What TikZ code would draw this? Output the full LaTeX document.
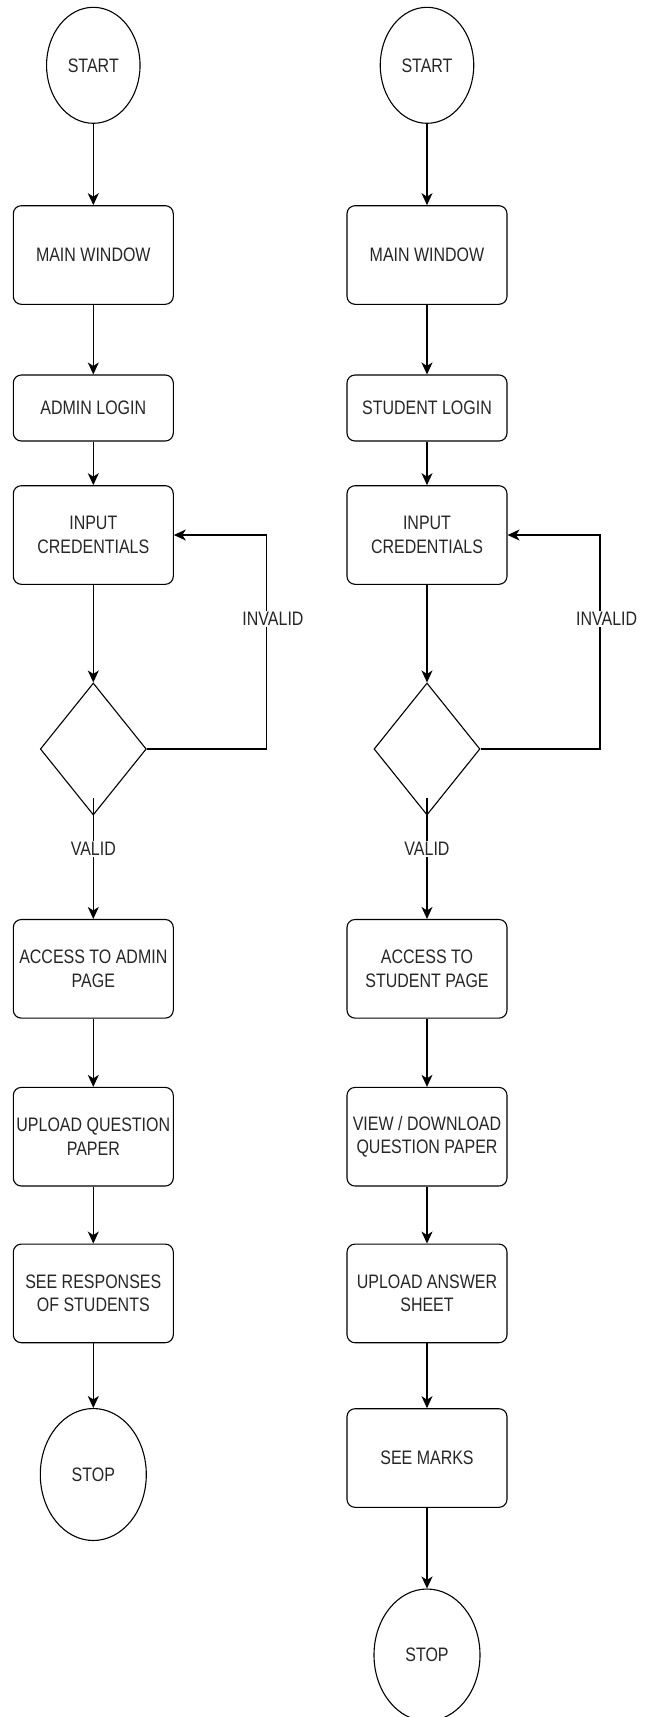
\documentclass[tikz,border=0pt]{standalone}
\usepackage{fontspec}
\setmainfont{Liberation Sans}[FakeStretch=0.82]
\usetikzlibrary{shapes.geometric,arrows.meta}
\begin{document}
\begin{tikzpicture}[x=1pt,y=-1pt,
  every node/.style={font=\fontsize{19.5}{23.3}\selectfont, text=black!85},
  term/.style={ellipse, draw, line width=1.1pt, inner sep=0pt},
  startterm/.style={term, minimum width=93.5pt, minimum height=116pt},
  stopterm/.style={term, minimum width=106pt, minimum height=132pt},
  proc/.style={rectangle, draw, line width=1.1pt, rounded corners=8pt, minimum width=160pt, align=center, inner sep=0pt},
  tallproc/.style={proc, minimum height=98.6pt},
  shortproc/.style={proc, minimum height=66pt},
  dec/.style={diamond, draw, line width=1.1pt, minimum width=106pt, minimum height=132pt, inner sep=0pt},
  arr/.style={draw, line width=1.1pt, -{Stealth[length=12pt,width=11pt,inset=3.5pt]}},
  lbl/.style={fill=white, inner sep=1pt}
]
\useasboundingbox (0,0) rectangle (651,1717);

% ---------- Left column (admin) ----------
\node[startterm] (s1) at (93.3,65.3) {START};
\node[tallproc] (m1) at (93.3,255) {MAIN WINDOW};
\node[shortproc] (l1) at (93.3,408) {ADMIN LOGIN};
\node[tallproc] (i1) at (93.3,535) {INPUT\\CREDENTIALS};
\node[dec] (d1) at (93.3,749) {};
\node[tallproc] (a1) at (93.3,968.8) {ACCESS TO ADMIN\\PAGE};
\node[tallproc] (u1) at (93.3,1136.7) {UPLOAD QUESTION\\PAPER};
\node[tallproc] (r1) at (93.3,1293.4) {SEE RESPONSES\\OF STUDENTS};
\node[stopterm] (e1) at (93.3,1474.5) {STOP};

\draw[arr] (s1) -- (m1);
\draw[arr] (m1) -- (l1);
\draw[arr] (l1) -- (i1);
\draw[arr] (i1) -- (d1);
\coordinate (v1) at (93.3,798);
\draw[arr] (v1) -- (a1) node[lbl, pos=0.42] (valid1) {VALID};
\draw[arr] (a1) -- (u1);
\draw[arr] (u1) -- (r1);
\draw[arr] (r1) -- (e1);
\coordinate (k1) at (266.7,535);
\draw[arr] (d1.east) -| (k1) -- (i1.east);
\node[lbl] (inv1) at (273,619) {INVALID};

% ---------- Right column (student) ----------
\node[startterm] (s2) at (427,65.3) {START};
\node[tallproc] (m2) at (427,255) {MAIN WINDOW};
\node[shortproc] (l2) at (427,408) {STUDENT LOGIN};
\node[tallproc] (i2) at (427,535) {INPUT\\CREDENTIALS};
\node[dec] (d2) at (427,749) {};
\node[tallproc] (a2) at (427,968.8) {ACCESS TO\\STUDENT PAGE};
\node[tallproc] (u2) at (427,1136.7) {VIEW / DOWNLOAD\\QUESTION PAPER};
\node[tallproc] (r2) at (427,1293.4) {UPLOAD ANSWER\\SHEET};
\node[tallproc] (k2m) at (427,1458) {SEE MARKS};
\node[stopterm] (e2) at (427,1655) {STOP};

\draw[arr] (s2) -- (m2);
\draw[arr] (m2) -- (l2);
\draw[arr] (l2) -- (i2);
\draw[arr] (i2) -- (d2);
\coordinate (v2) at (427,798);
\draw[arr] (v2) -- (a2) node[lbl, pos=0.42] (valid2) {VALID};
\draw[arr] (a2) -- (u2);
\draw[arr] (u2) -- (r2);
\draw[arr] (r2) -- (k2m);
\draw[arr] (k2m) -- (e2);
\coordinate (k2) at (600,535);
\draw[arr] (d2.east) -| (k2) -- (i2.east);
\node[lbl] (inv2) at (606.7,619) {INVALID};
\end{tikzpicture}
\end{document}
